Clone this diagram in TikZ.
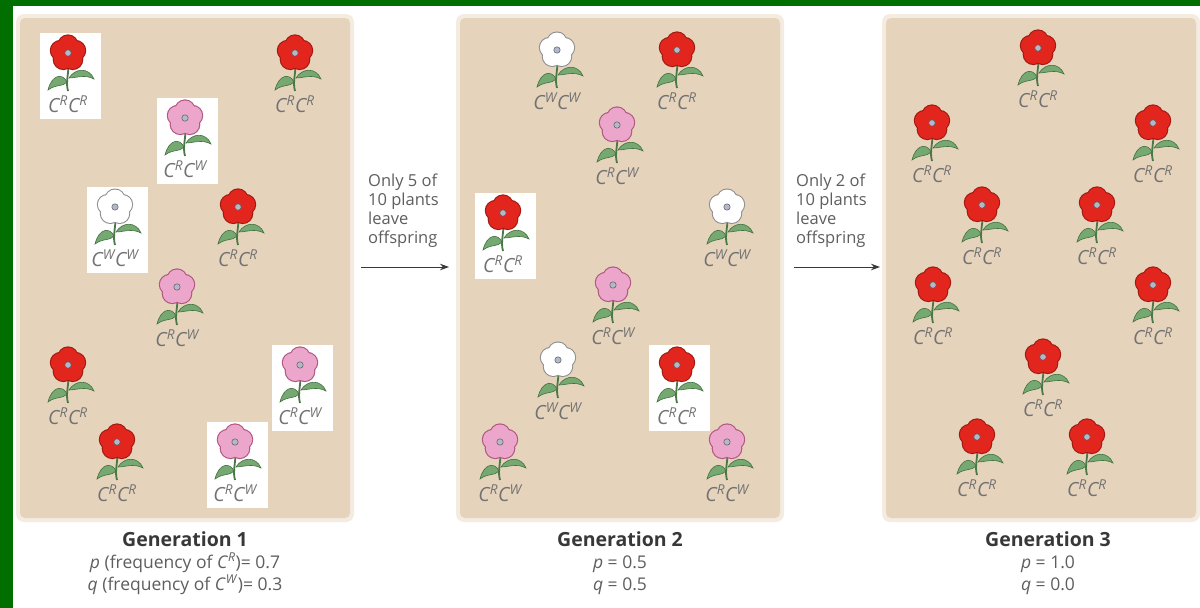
\documentclass[tikz,border=0pt]{standalone}
\usepackage{fontspec}
\setmainfont{Open Sans}
\usetikzlibrary{arrows.meta}
\tikzset{>={Stealth[length=9pt,width=6.5pt]}}

\definecolor{frame}{HTML}{006F00}
\definecolor{panel}{HTML}{E6D3BC}
\definecolor{redpetal}{HTML}{E2261D}
\definecolor{redrim}{HTML}{A01A12}
\definecolor{pinkpetal}{HTML}{ECA5CB}
\definecolor{pinkrim}{HTML}{B0567F}
\definecolor{whiterim}{HTML}{8C8C8C}
\definecolor{leafgreen}{HTML}{76A872}
\definecolor{leafdark}{HTML}{43703F}
\definecolor{eyegrey}{HTML}{B2B8C8}
\definecolor{genogrey}{HTML}{727272}
\definecolor{textgrey}{HTML}{5E5E5E}
\definecolor{headgrey}{HTML}{383838}

\tikzset{
  stem/.style={draw=leafdark!85!leafgreen, line width=1.8pt},
  leaf/.style={fill=leafgreen, draw=leafdark, line width=0.6pt},
  petalRR/.style={fill=redpetal}, rimRR/.style={draw=redrim, line width=2.2pt},
  petalRW/.style={fill=pinkpetal}, rimRW/.style={draw=pinkrim, line width=2.2pt},
  petalWW/.style={fill=white}, rimWW/.style={draw=whiterim, line width=2pt},
  eye/.style={fill=eyegrey, draw=eyegrey!50!black, line width=0.5pt},
  geno/.style={text=genogrey, inner sep=0pt, font=\fontsize{19.5}{20}\selectfont},
  note/.style={align=left, text=textgrey, inner sep=0pt, font=\fontsize{16.5}{19}\selectfont},
  caption/.style={align=center, text=textgrey, inner sep=0pt, font=\fontsize{17.5}{22}\selectfont},
  kept/.style={fill=white},
}

% genotype, e.g. \cc RW
\newcommand\cc[2]{\textit{C\textsuperscript{#1}C\textsuperscript{#2}}}
% heading under each panel
\newcommand\gen[1]{{\color{headgrey}\fontsize{19.5}{22}\selectfont\bfseries Generation #1}}

% #1 name, #2 position of the blossom, #3 genotype RR, RW or WW
\newcommand\plant[3]{%
  \begin{scope}[shift={(#2)}]
    \draw[stem] (0,6) .. controls (2,18) and (-3,28) .. (0,38);
    \filldraw[leaf] (-1,29) .. controls (-5,20) and (-16,21) .. (-20,37) .. controls (-12,31) and (-5,34) .. cycle;
    \filldraw[leaf] (1,25) .. controls (7,15) and (21,14) .. (26,26) .. controls (17,21) and (8,25) .. cycle;
    \foreach \a in {-90,-18,54,126,198} \draw[rim#3] (\a:8) circle (9.5pt);
    \foreach \a in {-90,-18,54,126,198} \fill[petal#3] (\a:8) circle (9.5pt);
    \filldraw[eye] (0,0) circle (3.2pt);
    \node[geno] (#1) at (0,51) {\cc#3};
  \end{scope}}

% survivors stand on a white card
\newcommand\keptplant[3]{%
  \begin{scope}[shift={(#2)}]
    \fill[kept] (-28,-20) rectangle (33,66);
  \end{scope}
  \plant{#1}{#2}{#3}}

\begin{document}
\begin{tikzpicture}[x=1pt,y=-1pt]
  \useasboundingbox (0,0) rectangle (1200,608);
  \fill[frame] (0,0) rectangle (1200,608);
  \fill[white] (13,6) rectangle (1200,608);

  % the three generations
  \foreach \xa/\xb in {20/350, 460/780, 886/1196} {
    \fill[panel!45!white, rounded corners=8pt] (\xa-4,14) rectangle (\xb+4,522);
    \fill[panel, rounded corners=5pt] (\xa,18) rectangle (\xb,518);
  }

  % generation 1
  \keptplant{g1-1}{68,53}{RR}
  \plant{g1-2}{295,53}{RR}
  \keptplant{g1-3}{185,118}{RW}
  \keptplant{g1-4}{115,207}{WW}
  \plant{g1-5}{238,207}{RR}
  \plant{g1-6}{177,287}{RW}
  \plant{g1-7}{68,365}{RR}
  \plant{g1-8}{117,442}{RR}
  \keptplant{g1-9}{300,365}{RW}
  \keptplant{g1-10}{235,442}{RW}

  % generation 2
  \plant{g2-1}{557,50}{WW}
  \plant{g2-2}{677,50}{RR}
  \plant{g2-3}{617,125}{RW}
  \keptplant{g2-4}{503,213}{RR}
  \plant{g2-5}{727,207}{WW}
  \plant{g2-6}{613,285}{RW}
  \plant{g2-7}{558,360}{WW}
  \keptplant{g2-8}{677,365}{RR}
  \plant{g2-9}{500,442}{RW}
  \plant{g2-10}{727,442}{RW}

  % generation 3
  \foreach \p [count=\i] in {{1038,48},{932,123},{1153,123},{982,205},{1097,205},
      {933,285},{1153,285},{1043,357},{977,437},{1087,437}}
    \plant{g3-\i}{\p}{RR};

  % selection between generations
  \node[note, anchor=north west] (sel1) at (368,174) {Only 5 of\\10 plants\\leave\\offspring};
  \node[note, anchor=north west] (sel2) at (796,174) {Only 2 of\\10 plants\\leave\\offspring};
  \coordinate (s1a) at (361,267); \coordinate (s1b) at (449,267);
  \coordinate (s2a) at (794,267); \coordinate (s2b) at (880,267);
  \draw[->, headgrey, line width=1pt] (s1a) -- (s1b);
  \draw[->, headgrey, line width=1pt] (s2a) -- (s2b);

  % allele frequencies
  \node[caption, anchor=north] (f1) at (185,531)
    {\gen{1}\\
     \textit{p} (frequency of \textit{C}\textsuperscript{\textit{R}})= 0.7\\
     \textit{q} (frequency of \textit{C}\textsuperscript{\textit{W}})= 0.3};
  \node[caption, anchor=north] (f2) at (620,531) {\gen{2}\\ \textit{p} = 0.5\\ \textit{q} = 0.5};
  \node[caption, anchor=north] (f3) at (1048,531) {\gen{3}\\ \textit{p} = 1.0\\ \textit{q} = 0.0};
\end{tikzpicture}
\end{document}
